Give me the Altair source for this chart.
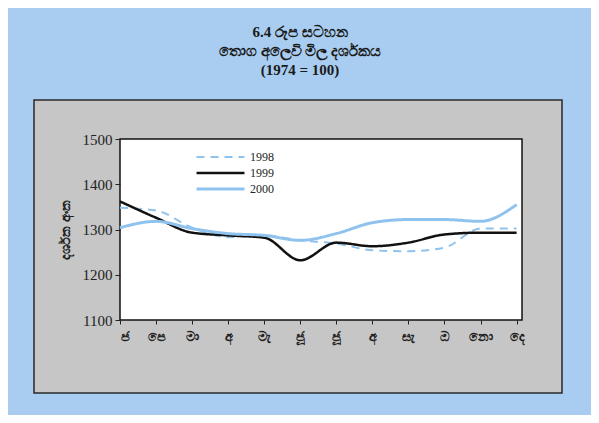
import altair as alt
import pandas as pd

months = ["ජ", "පෙ", "මා", "අ", "මැ", "ජූ", "ජූ", "අ", "සැ", "ඔ", "නො", "දෙ"]
years = ["1998", "1999", "2000"]
v1998 = [1348, 1342, 1304, 1283, 1287, 1276, 1269, 1254, 1252, 1260, 1302, 1302]
v1999 = [1362, 1326, 1293, 1287, 1282, 1232, 1271, 1263, 1271, 1289, 1293, 1293]
v2000 = [1304, 1318, 1302, 1291, 1287, 1276, 1291, 1315, 1322, 1322, 1318, 1355]
title_lines = ["6.4 රූප සටහන", "තොග අලෙවි මිල දර්ශකය", "(1974 = 100)"]
y_title = "දර්ශක අංක"

rows = []
for yr, vals in zip(years, [v1998, v1999, v2000]):
    for i, v in enumerate(vals):
        rows.append({"m": i, "year": yr, "value": v})
df = pd.DataFrame(rows)

W, H = 402, 181
label_expr = "[" + ",".join("'" + m + "'" for m in months) + "][datum.value]"

panel = alt.Chart(pd.DataFrame({"a": [0]})).mark_rect(
    fill="#c6c6c6", stroke="#2a2a2a", strokeWidth=1.5
).encode(
    x=alt.value(-86), x2=alt.value(442), y=alt.value(-39), y2=alt.value(254)
)

plotbg = alt.Chart(pd.DataFrame({"a": [0]})).mark_rect(
    fill="white", stroke="#111", strokeWidth=1.5
).encode(
    x=alt.value(0), x2=alt.value(W), y=alt.value(0), y2=alt.value(H)
)

def leg():
    return alt.Legend(title=None, orient="none", legendX=75, legendY=10,
                      symbolType="stroke", symbolSize=2300, clipHeight=16,
                      labelFont="Liberation Serif", labelFontSize=12,
                      labelColor="#222", rowPadding=0, padding=0, labelOffset=4)

lines = alt.Chart(df).mark_line(interpolate="monotone").encode(
    x=alt.X("m:Q", scale=alt.Scale(domain=[0, 11.15], nice=False),
            axis=alt.Axis(values=list(range(12)), labelExpr=label_expr, grid=False,
                          domain=False, tickColor="#222", tickSize=4, labelFontSize=13,
                          labelColor="#222", labelFontWeight="bold", labelPadding=6,
                          title=None, labelFont="Noto Sans", zindex=1)),
    y=alt.Y("value:Q", scale=alt.Scale(domain=[1100, 1500], nice=False),
            axis=alt.Axis(values=[1100, 1200, 1300, 1400, 1500], format="d", grid=False,
                          domain=False, tickColor="#222", tickSize=5,
                          labelFont="Liberation Serif", labelFontSize=15, labelColor="#222",
                          labelPadding=3, title=y_title, titleFont="Noto Sans",
                          titleFontSize=13, titleFontWeight="bold", titleColor="#222",
                          titlePadding=10, zindex=1)),
    color=alt.Color("year:N", scale=alt.Scale(domain=years, range=["#8fc3ee", "#111111", "#8fc3ee"]),
                    legend=leg()),
    strokeDash=alt.StrokeDash("year:N", scale=alt.Scale(domain=years, range=[[8, 6], [1, 0], [1, 0]]),
                              legend=leg()),
    strokeWidth=alt.StrokeWidth("year:N", scale=alt.Scale(domain=years, range=[2, 3, 2]),
                                legend=leg()),
)

chart = alt.layer(panel, plotbg, lines).properties(
    width=W, height=H,
    title=alt.TitleParams(text=title_lines, anchor="middle", dx=-21, offset=21,
                          font="Liberation Serif, Noto Sans", fontSize=15, fontWeight="bold",
                          color="#1a1a1a", lineHeight=19),
    padding={"left": 112, "top": 131, "right": 69, "bottom": 95},
    autosize=alt.AutoSizeParams(type="none"),
).configure(background="#a9cdf0").configure_view(stroke=None)

chart.save("out.html", embed_options={"renderer": "svg", "actions": False})
